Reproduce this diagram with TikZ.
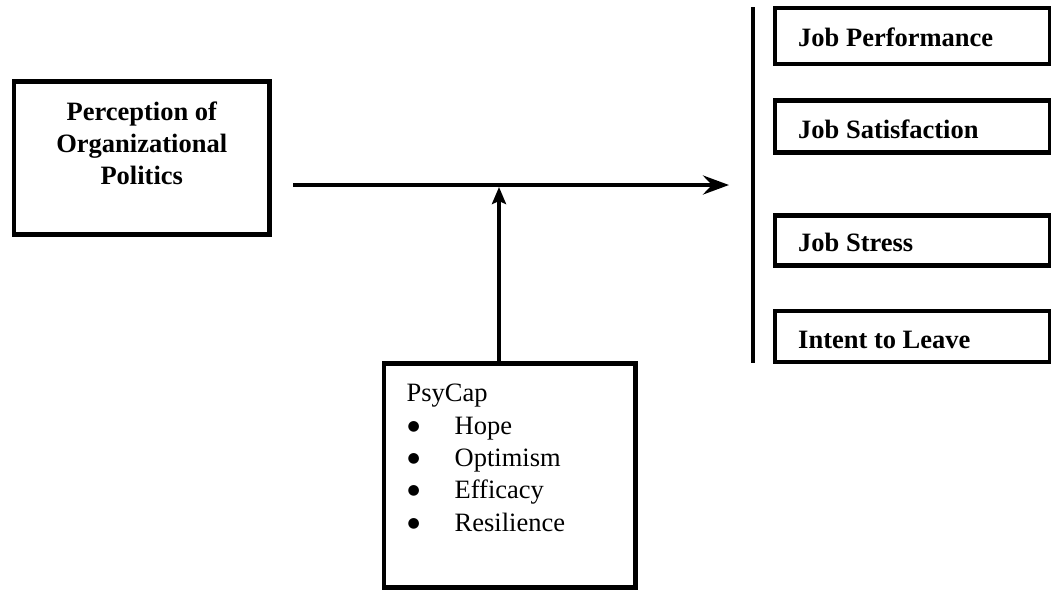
\documentclass[tikz,border=0pt]{standalone}
\usepackage{fontspec}
\setmainfont{Liberation Serif}
\newfontfamily\symfont{DejaVu Sans}
\usetikzlibrary{arrows.meta}
\newcommand{\bigbul}{\makebox[48pt][l]{\hspace{1pt}\raisebox{4pt}{\symfont\fontsize{14}{14}\selectfont ●}}}
\begin{document}
\begin{tikzpicture}[x=1pt,y=-1pt,
  box/.style={draw=black, line width=4.5pt, inner sep=0pt},
  lbl/.style={font=\fontsize{26.5}{32.3}\selectfont, inner sep=0pt, anchor=base west},
  blbl/.style={lbl, font=\fontsize{26.5}{32}\selectfont\bfseries},
  conn/.style={line width=4.5pt},
  bigtip/.style={-{Stealth[length=26pt,width=19pt,inset=9pt]}},
  smalltip/.style={-{Stealth[length=17pt,width=14pt,inset=3pt]}}]
\useasboundingbox (0,0) rectangle (1051,590);
\fill[white] (0,0) rectangle (1051,590);
% left box
\draw[box] (14,81.5) rectangle (269.5,234.5);
\node[minimum width=255.5pt, minimum height=153pt, anchor=north west, inner sep=0pt] (pop) at (14,81.5) {};
\node[lbl, anchor=base, align=center, font=\fontsize{26.5}{32.2}\selectfont\bfseries] (poptext) at (141.75,184.5) {Perception of\\Organizational\\Politics};
% PsyCap box
\draw[box] (384,363.5) rectangle (635.5,587.5);
\node[minimum width=251.5pt, minimum height=224pt, anchor=north west, inner sep=0pt] (psy) at (384,363.5) {};
\node[lbl, align=left] (psytext) at (406.5,531) {PsyCap\\
\bigbul Hope\\
\bigbul Optimism\\
\bigbul Efficacy\\
\bigbul Resilience};
% outcome boxes
\draw[box] (775,8) rectangle (1050,63.8);
\node[minimum width=275pt, minimum height=55.8pt, anchor=north west, inner sep=0pt] (perf) at (775,8) {};
\node[blbl] at (798,46.7) {Job Performance};
\draw[box] (775,100.5) rectangle (1050,152.5);
\node[minimum width=275pt, minimum height=52pt, anchor=north west, inner sep=0pt] (sat) at (775,100.5) {};
\node[blbl] at (798,138.3) {Job Satisfaction};
\draw[box] (775,215.5) rectangle (1050,265.5);
\node[minimum width=275pt, minimum height=50pt, anchor=north west, inner sep=0pt] (stress) at (775,215.5) {};
\node[blbl] at (798,251.7) {Job Stress};
\draw[box] (775,311) rectangle (1050,362);
\node[minimum width=275pt, minimum height=51pt, anchor=north west, inner sep=0pt] (leave) at (775,311) {};
\node[blbl] at (798,348.3) {Intent to Leave};
% bracket line
\coordinate (bt) at (753,7);
\coordinate (bb) at (753,363);
\draw[conn] (bt) -- (bb);
% main arrow
\coordinate (hs) at (293,185);
\coordinate (he) at (729,185);
\draw[conn, bigtip] (hs) -- (he);
% moderator arrow
\coordinate (vs) at (499,363.5);
\coordinate (ve) at (499,187);
\draw[conn, smalltip] (vs) -- (ve);
\end{tikzpicture}
\end{document}
